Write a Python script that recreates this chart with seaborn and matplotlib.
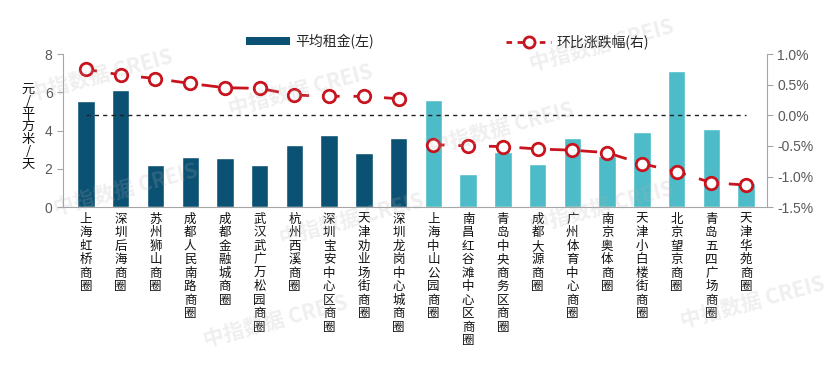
import numpy as np
import pandas as pd
import matplotlib
matplotlib.use("Agg")
import matplotlib.pyplot as plt
from matplotlib.lines import Line2D
from matplotlib.patches import Patch
import seaborn as sns

# 商圈名称
areas = ["上海虹桥商圈", "深圳后海商圈", "苏州狮山商圈", "成都人民南路商圈", "成都金融城商圈",
         "武汉武广万松园商圈", "杭州西溪商圈", "深圳宝安中心区商圈", "天津劝业场街商圈", "深圳龙岗中心城商圈",
         "上海中山公园商圈", "南昌红谷滩中心区商圈", "青岛中央商务区商圈", "成都大源商圈", "广州体育中心商圈",
         "南京奥体商圈", "天津小白楼街商圈", "北京望京商圈", "青岛五四广场商圈", "天津华苑商圈"]
# 平均租金 (元/平方米/天)
rent = [5.56, 6.12, 2.20, 2.63, 2.56, 2.20, 3.23, 3.79, 2.81, 3.61,
        5.60, 1.73, 2.86, 2.25, 3.63, 2.67, 3.94, 7.14, 4.10, 1.27]
# 环比涨跌幅 (%)
change = [0.75, 0.66, 0.60, 0.52, 0.45, 0.44, 0.33, 0.31, 0.31, 0.27,
          -0.48, -0.50, -0.51, -0.55, -0.57, -0.61, -0.79, -0.92, -1.10, -1.14]
group = ["up"] * 10 + ["down"] * 10

NAVY = "#0b5173"
TEAL = "#4dbcc8"
RED = "#c8141e"

sns.set_style("white")
plt.rcParams['font.family'] = ['Noto Sans CJK SC', 'DejaVu Sans']

df = pd.DataFrame({"area": areas, "rent": rent, "change": change, "grp": group,
                   "pos": np.arange(len(areas))})

fig = plt.figure(figsize=(8.36, 3.78), dpi=100)
ax = fig.add_axes([0.0754, 0.452, 0.842, 0.405])

sns.barplot(data=df, x="area", y="rent", hue="grp", palette={"up": NAVY, "down": TEAL},
            dodge=False, width=0.5, legend=False, ax=ax, saturation=1)
ax.set_xlim(-0.66, 19.6)
ax.set_ylim(0, 8)
ax.set_yticks([0, 2, 4, 6, 8])
ax.set_xlabel("")
ax.set_ylabel("")
ax.set_xticks(range(len(areas)))
ax.set_xticklabels(["\n".join(a) for a in areas], fontsize=9, linespacing=1.05,
                   va="top", color="#111111")
ax.tick_params(axis="x", length=0, pad=4)
ax.tick_params(axis="y", direction="out", length=4, color="#a6a6a6",
               labelsize=10, labelcolor="#595959", left=True)
for lab in ax.get_yticklabels():
    lab.set_family(["Liberation Sans", "DejaVu Sans"])
for s in ["top", "right"]:
    ax.spines[s].set_visible(False)
for s in ["left", "bottom"]:
    ax.spines[s].set_color("#a6a6a6")

ax2 = ax.twinx()
ax2.hlines(0, 0, len(areas) - 1, colors="#222222", linestyles=(0, (3, 3)), lw=1)
# 两段折线（正增长组 / 负增长组之间不相连）
for g in ["up", "down"]:
    sub = df[df["grp"] == g]
    sns.lineplot(data=sub, x="pos", y="change", ax=ax2, color=RED, lw=2,
                 linestyle=(2, (6, 5)), marker="o", markersize=9,
                 markerfacecolor="white", markeredgecolor=RED, markeredgewidth=2)
for ln in ax2.lines:
    ln.set_linestyle((2, (6, 5)))
ax2.set_ylim(-1.5, 1.0)
ax2.set_yticks([1.0, 0.5, 0.0, -0.5, -1.0, -1.5])
ax2.set_yticklabels([f"{v:.1f}%" for v in [1.0, 0.5, 0.0, -0.5, -1.0, -1.5]],
                    family=["Liberation Sans", "DejaVu Sans"])
ax2.tick_params(axis="y", direction="out", length=4, color="#a6a6a6",
                labelsize=10, labelcolor="#595959", right=True)
ax2.set_xlabel("")
ax2.set_ylabel("")
for s in ["top", "left", "bottom"]:
    ax2.spines[s].set_visible(False)
ax2.spines["right"].set_color("#a6a6a6")
ax2.set_xlim(-0.66, 19.6)

# 纵轴标题 (竖排)
fig.text(0.034, 0.665, "\n".join("元/平方米/天"), fontsize=9.5, ha="center", va="center",
         linespacing=0.95, color="#111111")

handles = [Patch(facecolor=NAVY, edgecolor="none"),
           Line2D([], [], color=RED, lw=2, ls=(0, (2, 2)), marker="o", markersize=8,
                  markerfacecolor="white", markeredgecolor=RED, markeredgewidth=2)]
leg = fig.legend(handles, ["平均租金(左)", "环比涨跌幅(右)"], loc="center",
                 bbox_to_anchor=(0.535, 0.89), ncol=2, frameon=False, fontsize=10,
                 handlelength=3.2, handleheight=0.5, columnspacing=9.5, handletextpad=0.4)

# 水印
for (x, y) in [(0.12, 0.8), (0.36, 0.76), (0.6, 0.66), (0.15, 0.5), (0.42, 0.42),
               (0.72, 0.45), (0.72, 0.88), (0.33, 0.15), (0.9, 0.2)]:
    fig.text(x, y, "中指数据 CREIS", fontsize=15, color="#b0b0b0", alpha=0.2,
             rotation=15, ha="center", va="center", fontweight="bold")

fig.savefig("out.png", dpi=100)
